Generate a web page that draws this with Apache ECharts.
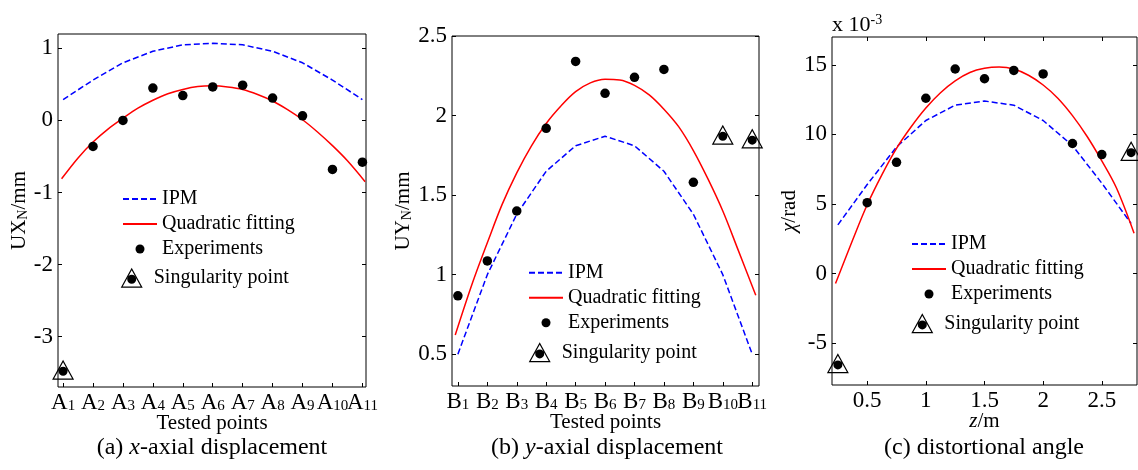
<!DOCTYPE html>
<html>
<head>
<meta charset="utf-8">
<script src="https://cdn.jsdelivr.net/npm/echarts@6/dist/echarts.min.js"></script>
<style>html,body{margin:0;padding:0;background:#fff}#chart{width:1138px;height:470px}</style>
</head>
<body>
<div id="chart"></div>
<script>
// ---------- data ----------
// panel (a): x-axial displacement, tested points A1..A11
const catA = ['A1','A2','A3','A4','A5','A6','A7','A8','A9','A10','A11'];
const posAB = [1,2,3,4,5,6,7,8,9,10,11];
const ipmA = [0.29, 0.56, 0.80, 0.96, 1.05, 1.07, 1.05, 0.96, 0.80, 0.56, 0.29];
const expA = [null, -0.36, 0.00, 0.45, 0.345, 0.465, 0.49, 0.31, 0.065, -0.68, -0.58];
const singA = [-3.48, null, null, null, null, null, null, null, null, null, null];
const fitA = [[0.95,-0.81],[1.5,-0.52],[2,-0.30],[2.5,-0.12],[3,0.03],[3.5,0.17],[4,0.28],[4.5,0.37],[5,0.43],[5.5,0.47],[6,0.48],
              [6.5,0.465],[7,0.43],[7.5,0.36],[8,0.27],[8.5,0.15],[9,0.01],[9.5,-0.16],[10,-0.35],[10.5,-0.56],[11.09,-0.85]];
const yTicksA = [-3, -2, -1, 0, 1];

// panel (b): y-axial displacement, tested points B1..B11
const catB = ['B1','B2','B3','B4','B5','B6','B7','B8','B9','B10','B11'];
const ipmB = [0.50, 1.00, 1.38, 1.65, 1.81, 1.87, 1.81, 1.65, 1.38, 1.00, 0.50];
const expB = [0.867, 1.086, 1.40, 1.92, 2.34, 2.14, 2.24, 2.29, 1.58, null, null];
const singB = [null, null, null, null, null, null, null, null, null, 1.87, 1.846];
const fitB = [[0.91,0.62],[1.5,0.95],[2,1.20],[2.5,1.44],[3,1.64],[3.5,1.81],[4,1.95],[4.5,2.06],[5,2.15],[5.5,2.205],[6,2.228],
              [6.5,2.224],[7,2.19],[7.5,2.13],[8,2.04],[8.5,1.93],[9,1.78],[9.5,1.60],[10,1.40],[10.5,1.165],[11.12,0.87]];
const yTicksB = [0.5, 1, 1.5, 2, 2.5];

// panel (c): distortional angle (x 10^-3 rad) against z/m
const zPos = [0.25, 0.5, 0.75, 1.0, 1.25, 1.5, 1.75, 2.0, 2.25, 2.5, 2.75];
const ipmC = [3.5, 6.4, 9.1, 11.0, 12.1, 12.4, 12.1, 11.0, 9.2, 6.5, 3.6];
const expC = [null, 5.1, 8.0, 12.6, 14.7, 14.0, 14.6, 14.35, 9.35, 8.55, null];
const singC = [-6.55, null, null, null, null, null, null, null, null, null, 8.7];
const fitC = [[0.23,-0.71],[0.375,2.4],[0.5,4.95],[0.625,7.1],[0.75,9.0],[0.875,10.55],[1.0,11.9],[1.125,13.0],[1.25,13.85],[1.375,14.45],[1.5,14.75],
              [1.625,14.84],[1.75,14.7],[1.875,14.25],[2.0,13.55],[2.125,12.6],[2.25,11.35],[2.375,9.85],[2.5,8.1],[2.625,6.15],[2.775,2.9]];
const xTicksC = [0.5, 1, 1.5, 2, 2.5];
const yTicksC = [-5, 0, 5, 10, 15];

const legendNames = ['IPM', 'Quadratic fitting', 'Experiments', 'Singularity point'];
const captions = ['(a) {i|x}-axial displacement', '(b) {i|y}-axial displacement', '(c) distortional angle'];

// ---------- helpers ----------
const FONT = 'Liberation Serif';
const BLACK = '#000';
const SING_SYMBOL = 'path://M0,200 L110,0 L220,200 Z M20.3,188 L199.7,188 L110,24.9 Z M155,116 A45,45 0 1,0 65,116 A45,45 0 1,0 155,116 Z';
const oddPos = posAB.filter(v => v % 2 === 1);
const evenPos = posAB.filter(v => v % 2 === 0);

function pairs(xs, ys) {
  const out = [];
  xs.forEach((x, i) => { if (ys[i] !== null && ys[i] !== undefined) out.push([x, ys[i]]); });
  return out;
}
function catFormatter(cats) {
  return function (v) {
    const s = cats[Math.round(v) - 1];
    return s ? s[0] + '{s|' + s.slice(1) + '}' : '';
  };
}
const subRich = {
  s: { fontSize: 15, fontFamily: FONT, color: BLACK, verticalAlign: 'bottom', lineHeight: 12 }
};
function tickCfg(vals) {
  return { show: true, inside: true, length: 4, customValues: vals, lineStyle: { color: BLACK, width: 1 } };
}
function labelCfg(vals, fmt) {
  const lab = { customValues: vals, margin: 4, fontSize: 23, lineHeight: 23, fontFamily: FONT, color: BLACK,
    rich: subRich, showMinLabel: true, showMaxLabel: true, hideOverlap: false };
  if (fmt) lab.formatter = fmt;
  return lab;
}
function mainX(gi, min, max, ticks, labVals, fmt, name, gap) {
  return {
    type: 'value', gridIndex: gi, position: 'bottom', min: min, max: max,
    axisLine: { show: false, onZero: false }, splitLine: { show: false },
    axisTick: tickCfg(ticks),
    axisLabel: labelCfg(labVals, fmt),
    name: name, nameLocation: 'middle', nameGap: gap, nameMoveOverlap: false,
    nameTextStyle: { fontSize: 21, fontFamily: FONT, color: BLACK, rich: { i: { fontStyle: 'italic', fontSize: 21, fontFamily: FONT, color: BLACK } } }
  };
}
// second bottom axis carrying the remaining category labels (avoids label hiding)
function labelX(gi, min, max, labVals, fmt) {
  return {
    type: 'value', gridIndex: gi, position: 'bottom', min: min, max: max,
    axisLine: { show: false, onZero: false }, splitLine: { show: false },
    axisTick: { show: false },
    axisLabel: labelCfg(labVals, fmt)
  };
}
function mainY(gi, min, max, ticks, name, gap) {
  return {
    type: 'value', gridIndex: gi, position: 'left', min: min, max: max,
    axisLine: { show: false, onZero: false }, splitLine: { show: false },
    axisTick: tickCfg(ticks),
    axisLabel: { customValues: ticks, margin: 5, fontSize: 23, fontFamily: FONT, color: BLACK, showMinLabel: true, showMaxLabel: true },
    name: name, nameLocation: 'middle', nameGap: gap,
    nameTextStyle: {
      fontSize: 21, fontFamily: FONT, color: BLACK,
      rich: {
        s: { fontSize: 14, fontFamily: FONT, color: BLACK, verticalAlign: 'bottom', lineHeight: 12 },
        i: { fontStyle: 'italic', fontSize: 21, fontFamily: FONT, color: BLACK }
      }
    }
  };
}
function mirrorY(gi, min, max, ticks) {
  return {
    type: 'value', gridIndex: gi, position: 'right', min: min, max: max,
    axisLine: { show: false, onZero: false }, splitLine: { show: false },
    axisTick: tickCfg(ticks), axisLabel: { show: false }
  };
}
function mirrorX(gi, min, max, ticks) {
  return {
    type: 'value', gridIndex: gi, position: 'top', min: min, max: max,
    axisLine: { show: false, onZero: false }, splitLine: { show: false },
    axisTick: tickCfg(ticks), axisLabel: { show: false }
  };
}
function panelSeries(xi, yi, xs, ipm, fit, exp, sing) {
  return [
    { name: legendNames[0], type: 'line', xAxisIndex: xi, yAxisIndex: yi, data: pairs(xs, ipm),
      showSymbol: false, symbol: 'circle', lineStyle: { color: '#0000ff', width: 1.5, type: [6, 3] }, itemStyle: { color: '#0000ff' }, z: 2 },
    { name: legendNames[1], type: 'line', xAxisIndex: xi, yAxisIndex: yi, data: fit, smooth: 0.35,
      showSymbol: false, symbol: 'circle', lineStyle: { color: '#ff0000', width: 1.5 }, itemStyle: { color: '#ff0000' }, z: 3 },
    { name: legendNames[2], type: 'scatter', xAxisIndex: xi, yAxisIndex: yi, data: pairs(xs, exp),
      symbol: 'circle', symbolSize: 9.5, itemStyle: { color: BLACK, opacity: 1 }, z: 4 },
    { name: legendNames[3], type: 'scatter', xAxisIndex: xi, yAxisIndex: yi, data: pairs(xs, sing),
      symbol: SING_SYMBOL, symbolSize: [22, 20], symbolOffset: [0, -1.5], itemStyle: { color: BLACK, opacity: 1 }, z: 4 }
  ];
}
const legendText = { fontSize: 20, fontFamily: FONT, color: BLACK, lineHeight: 22 };
function legendPair(left, top, singLeft, singTop) {
  return [
    { data: [
        { name: legendNames[0], itemStyle: { opacity: 0 } },
        { name: legendNames[1], itemStyle: { opacity: 0 } },
        { name: legendNames[2] }
      ],
      orient: 'vertical', left: left, top: top, padding: 0,
      itemWidth: 34, itemHeight: 9, itemGap: 3, selectedMode: false, textStyle: legendText },
    { data: [legendNames[3]], orient: 'vertical', left: singLeft, top: singTop, padding: 0,
      itemWidth: 34, itemHeight: 20, itemGap: 3, selectedMode: false, textStyle: legendText }
  ];
}
const capStyle = {
  fontSize: 24, fontFamily: FONT, fontWeight: 'normal', color: BLACK,
  rich: { i: { fontStyle: 'italic', fontSize: 24, fontFamily: FONT, color: BLACK } }
};

const option = {
  backgroundColor: '#fff',
  animation: false,
  title: [
    { text: captions[0], left: 212, top: 436, textAlign: 'center', padding: 0, textStyle: capStyle },
    { text: captions[1], left: 607, top: 436, textAlign: 'center', padding: 0, textStyle: capStyle },
    { text: captions[2], left: 984, top: 436, textAlign: 'center', padding: 0, textStyle: capStyle },
    { text: 'x 10{sup|-3}', left: 832, top: 13, padding: 0,
      textStyle: { fontSize: 22, fontFamily: FONT, fontWeight: 'normal', color: BLACK, lineHeight: 25,
        rich: { sup: { fontSize: 14, fontFamily: FONT, color: BLACK, verticalAlign: 'top', lineHeight: 12 } } } }
  ],
  grid: [
    { left: 58, top: 34, width: 308, height: 353, show: true, borderColor: BLACK, borderWidth: 1, backgroundColor: 'transparent' },
    { left: 452, top: 36, width: 307, height: 350, show: true, borderColor: BLACK, borderWidth: 1, backgroundColor: 'transparent' },
    { left: 832, top: 37, width: 305, height: 348, show: true, borderColor: BLACK, borderWidth: 1, backgroundColor: 'transparent' }
  ],
  xAxis: [
    mainX(0, 0.83, 11.12, posAB, oddPos, catFormatter(catA), 'Tested points', 26),
    mainX(1, 0.8, 11.23, posAB, oddPos, catFormatter(catB), 'Tested points', 26),
    mainX(2, 0.2, 2.8, xTicksC, xTicksC, null, '{i|z}/m', 26),
    mirrorX(2, 0.2, 2.8, xTicksC),
    labelX(0, 0.83, 11.12, evenPos, catFormatter(catA)),
    labelX(1, 0.8, 11.23, evenPos, catFormatter(catB))
  ],
  yAxis: [
    mainY(0, -3.7, 1.2, yTicksA, 'UX{s|N}/mm', 27),
    mainY(1, 0.3, 2.5, yTicksB, 'UY{s|N}/mm', 34),
    mainY(2, -8, 17, yTicksC, '{i|χ}/rad', 26),
    mirrorY(0, -3.7, 1.2, yTicksA),
    mirrorY(1, 0.3, 2.5, yTicksB),
    mirrorY(2, -8, 17, yTicksC)
  ],
  legend: [].concat(
    legendPair(122, 188, 120.7, 266.7),
    legendPair(528, 261.7, 528.7, 341.3),
    legendPair(911, 233, 911.3, 312.3)
  ),
  series: [].concat(
    panelSeries(0, 0, posAB, ipmA, fitA, expA, singA),
    panelSeries(1, 1, posAB, ipmB, fitB, expB, singB),
    panelSeries(2, 2, zPos, ipmC, fitC, expC, singC)
  )
};

const chart = echarts.init(document.getElementById('chart'), null, { renderer: 'canvas' });
chart.setOption(option);
</script>
</body>
</html>
